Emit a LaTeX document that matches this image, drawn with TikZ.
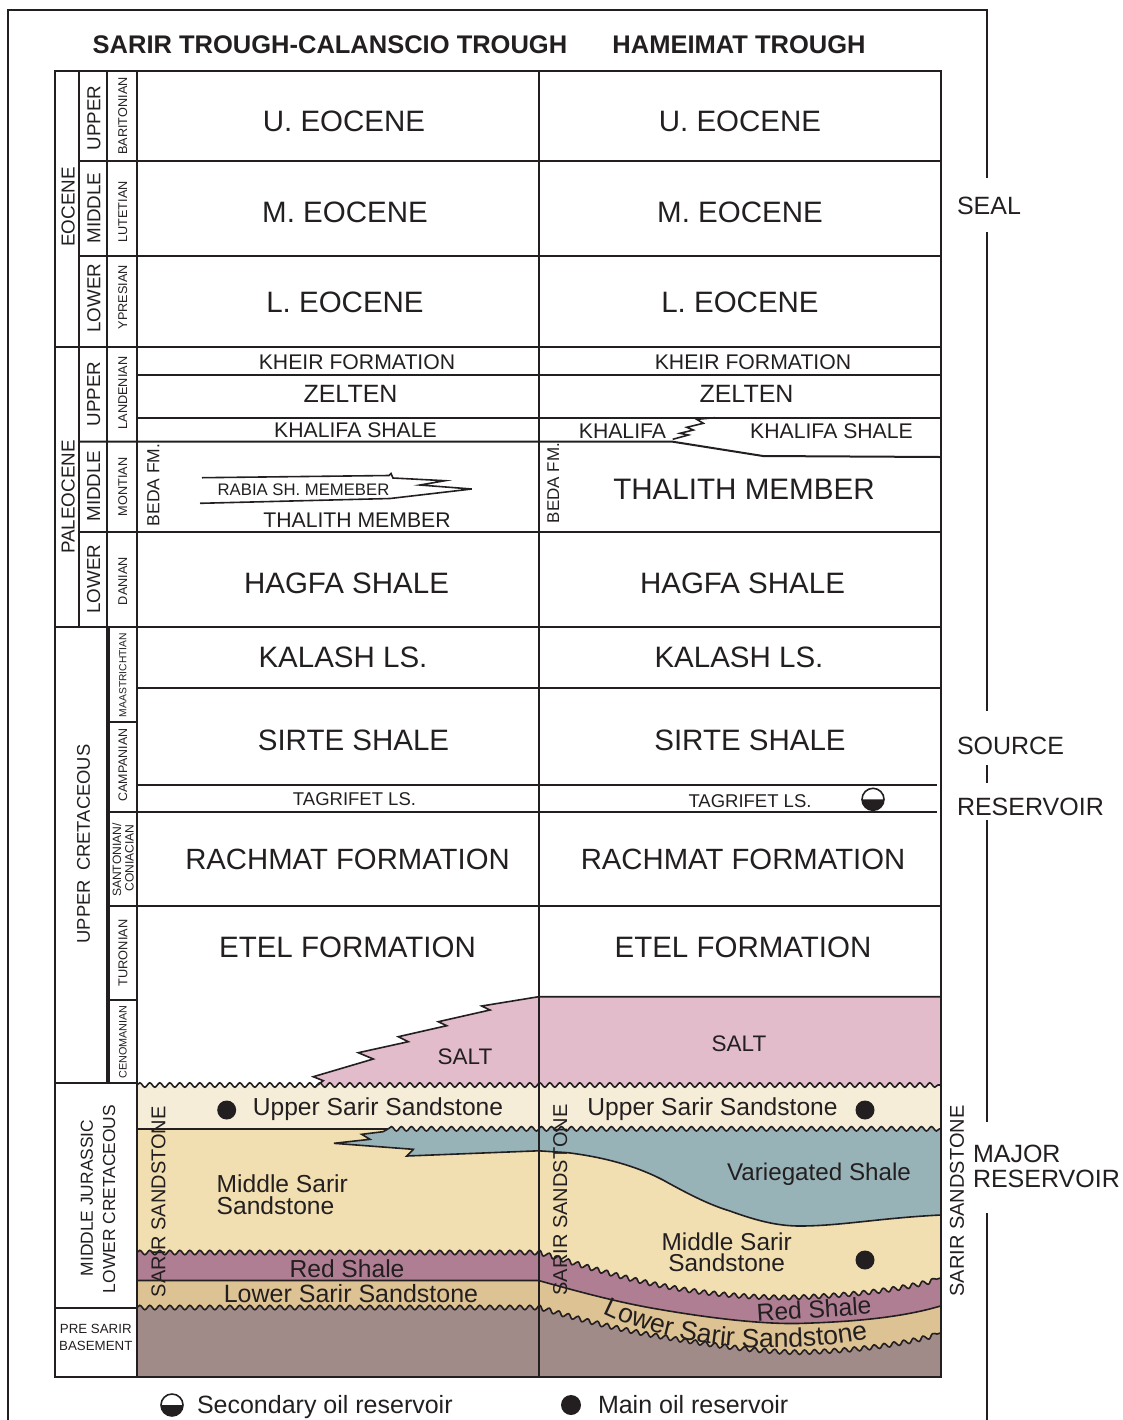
\documentclass[tikz,border=0pt]{standalone}
\usepackage{fontspec}
\setmainfont{Liberation Sans}
\usetikzlibrary{decorations.pathmorphing,decorations.text}
\definecolor{ink}{HTML}{231F20}
\definecolor{saltc}{HTML}{E2BCCB}
\definecolor{usand}{HTML}{F6EDD8}
\definecolor{msand}{HTML}{F1DFB1}
\definecolor{varsh}{HTML}{98B3B8}
\definecolor{redsh}{HTML}{AF7E92}
\definecolor{lsand}{HTML}{DDC293}
\definecolor{basem}{HTML}{A08B89}
\begin{document}
\begin{tikzpicture}[x=0.5pt,y=-0.5pt,
  fs/.style={font=\fontsize{#1}{#1}\selectfont, text height={0.716*#1pt}, text depth=0pt, inner sep=0pt, outer sep=0pt, text=ink},
  fsb/.style={fs=#1, font=\fontsize{#1}{#1}\selectfont\bfseries},
  wave/.style={decoration={snake,segment length=5pt,amplitude=1.1pt}},
  gridl/.style={draw=ink, line width=1pt},
  bnd/.style={draw=ink, line width=0.8pt},
  frame/.style={draw=ink, line width=0.9pt},
]
\useasboundingbox (0,0) rectangle (1123,1420);

% ---------- coloured fills ----------
\fill[saltc] (940.5,996.7) -- (538.7,996.7) -- (481.7,1006) -- (490,1010) -- (438.3,1021.7) -- (446.7,1025.7) -- (398.3,1036.7) -- (408.3,1041.7) -- (358.3,1052.7) -- (373.3,1059) -- (313.3,1076.7) -- (323.3,1080.7) -- (316,1089) -- (940.5,1092) -- cycle;
\fill[usand] decorate[wave]{(136.7,1085) -- (940.5,1085)} -- (940.5,1376.7) -- (136.7,1376.7) -- cycle;
\fill[msand] decorate[wave]{(388.3,1128.8) -- (940.5,1128.8)} -- (940.5,1376.7) -- (136.7,1376.7) -- (136.7,1128.8) -- cycle;
\fill[varsh] decorate[wave]{(388.3,1128.8) -- (940.5,1128.8)} -- (940.5,1215)
  .. controls (880,1218) and (840,1226) .. (800,1226)
  .. controls (780,1226) and (760,1222) .. (730,1211)
  .. controls (710,1205) and (690,1195) .. (663,1180)
  .. controls (640,1168) and (610,1158) .. (568,1152.7)
  -- (538.5,1150.8) -- (406.7,1156) -- (413.3,1149.3) -- (334,1143.3) -- (370,1139.3) -- (361.7,1134.3) -- (383,1131.7) -- cycle;
\fill[redsh] decorate[wave]{(136.7,1252.5) -- (538.5,1252.5) .. controls (580,1265) and (620,1278) .. (663,1286) .. controls (710,1295) and (760,1298) .. (797,1297) .. controls (850,1295) and (900,1290) .. (940.5,1278)} -- (940.5,1376.7) -- (136.7,1376.7) -- cycle;
\fill[lsand] (136.7,1280.5) -- (538.5,1280.5) .. controls (580,1292) and (620,1303) .. (663,1310) .. controls (710,1318) and (760,1324) .. (797,1323.5) .. controls (850,1322) and (900,1318) .. (940.5,1306) -- (940.5,1376.7) -- (136.7,1376.7) -- cycle;
\fill[basem] decorate[wave]{(136.7,1307.5) -- (538.5,1307.5) .. controls (580,1320) and (620,1330) .. (663,1337) .. controls (710,1345) and (760,1352) .. (797,1352) .. controls (850,1351) and (900,1345) .. (940.5,1333)} -- (940.5,1376.7) -- (136.7,1376.7) -- cycle;

% ---------- layer boundaries ----------
\draw[bnd] (940.5,996.7) -- (538.7,996.7) -- (481.7,1006) -- (490,1010) -- (438.3,1021.7) -- (446.7,1025.7) -- (398.3,1036.7) -- (408.3,1041.7) -- (358.3,1052.7) -- (373.3,1059) -- (313.3,1076.7) -- (323.3,1080.7) -- (316,1086);
\draw[bnd] decorate[wave]{(136.7,1085) -- (940.5,1085)};
\draw[bnd] (136.7,1128.8) -- (388.3,1128.8);
\draw[bnd] decorate[wave]{(388.3,1128.8) -- (940.5,1128.8)};
\draw[bnd] (388.3,1128.8) -- (383,1131.7) -- (361.7,1134.3) -- (370,1139.3) -- (334,1143.3) -- (413.3,1149.3) -- (406.7,1156) -- (538.5,1150.8) -- (568,1152.7)
  .. controls (610,1158) and (640,1168) .. (663,1180)
  .. controls (690,1195) and (710,1205) .. (730,1211)
  .. controls (760,1222) and (780,1226) .. (800,1226)
  .. controls (840,1226) and (880,1218) .. (940.5,1215);
\draw[bnd] decorate[wave]{(136.7,1252.5) -- (538.5,1252.5) .. controls (580,1265) and (620,1278) .. (663,1286) .. controls (710,1295) and (760,1298) .. (797,1297) .. controls (850,1295) and (900,1290) .. (940.5,1278)};
\draw[bnd] (136.7,1280.5) -- (538.5,1280.5) .. controls (580,1292) and (620,1303) .. (663,1310) .. controls (710,1318) and (760,1324) .. (797,1323.5) .. controls (850,1322) and (900,1318) .. (940.5,1306);
\draw[bnd] decorate[wave]{(136.7,1307.5) -- (538.5,1307.5) .. controls (580,1320) and (620,1330) .. (663,1337) .. controls (710,1345) and (760,1352) .. (797,1352) .. controls (850,1351) and (900,1345) .. (940.5,1333)};

% Rabia tongue and Khalifa interfingering
\draw[bnd] (202,477.7) -- (389,475.5) -- (391,473.5) -- (393,478) -- (445,480.7) -- (420,485) -- (471.7,489) -- (390,498.5) -- (200,503.3);
\draw[gridl] (79.3,441.7) -- (672.7,441.7) -- (763,456) -- (940.5,457);
\draw[bnd] (672.7,439.3) -- (688.3,435) -- (680,433.3) -- (693.3,430) -- (686.7,427.3) -- (703.3,423.3) -- (696.7,419.3) -- (715,417.7);

% ---------- table grid ----------
\draw[gridl] (55,71) rectangle (940.5,1376.7);
\draw[gridl] (79.3,71) -- (79.3,627.3);
\draw[gridl] (106.7,71) -- (106.7,1083.3);
\draw[gridl] (108.9,627.3) -- (108.9,1083.3);
\draw[gridl] (136.7,71) -- (136.7,1376.7);
\draw[gridl] (538.5,71) -- (538.5,1376.7);
\draw[gridl] (79.3,161) -- (940.5,161);
\draw[gridl] (79.3,256) -- (940.5,256);
\draw[gridl] (55,346.7) -- (940.5,346.7);
\draw[gridl] (136.7,375) -- (940.5,375);
\draw[gridl] (136.7,417.7) -- (940.5,417.7);
\draw[gridl] (79.3,532.3) -- (940.5,532.3);
\draw[gridl] (55,627.3) -- (940.5,627.3);
\draw[gridl] (136.7,687.7) -- (940.5,687.7);
\draw[gridl] (108.9,721.7) -- (136.7,721.7);
\draw[gridl] (136.7,785) -- (937,785);
\draw[gridl] (108.9,812.3) -- (937,812.3);
\draw[gridl] (108.9,905.7) -- (940.5,905.7);
\draw[gridl] (108.9,1000) -- (136.7,1000);
\draw[gridl] (55,1083.3) -- (136.7,1083.3);
\draw[gridl] (55,1308.3) -- (136.7,1308.3);

% ---------- outer frame ----------
\draw[frame] (8,1420) -- (8,10) -- (987,10) -- (987,178);
\draw[frame] (987,232) -- (987,711);
\draw[frame] (987,765) -- (987,783);
\draw[frame] (987,820) -- (987,1121.7);
\draw[frame] (987,1213.3) -- (987,1420);

% ---------- titles ----------
\node[fsb=12.75] (ttl1) at (330,44) {SARIR TROUGH-CALANSCIO TROUGH};
\node[fsb=12.75] (ttl2) at (739,44) {HAMEIMAT TROUGH};

% ---------- age columns ----------
\node[fs=9.4,rotate=90] (eoc) at (68,207) {EOCENE};
\node[fs=9.4,rotate=90] (eocu) at (93.6,118) {UPPER};
\node[fs=9.4,rotate=90] (eocm) at (93.6,208) {MIDDLE};
\node[fs=9.4,rotate=90] (eocl) at (93.6,298) {LOWER};
\node[fs=9.4,rotate=90] (pal) at (68,497) {PALEOCENE};
\node[fs=9.4,rotate=90] (palu) at (93.3,394) {UPPER};
\node[fs=9.4,rotate=90] (palm) at (93.3,486) {MIDDLE};
\node[fs=9.4,rotate=90] (pall) at (93.3,579) {LOWER};
\node[fs=9.2,rotate=90] (ucr) at (83.3,844) {UPPER\hspace{0.5em}CRETACEOUS};
\node[fs=8.7,rotate=90] (mjur) at (86.7,1198) {MIDDLE JURASSIC};
\node[fs=8.7,rotate=90] (lcre) at (109,1199) {LOWER CRETACEOUS};
\node[fs=6.65] (pre1) at (95.8,1328.3) {PRE SARIR};
\node[fs=6.65] (pre2) at (95.8,1345.7) {BASEMENT};

% stages
\node[fs=6.35,rotate=90] (st1) at (122.7,116) {BARITONIAN};
\node[fs=6.35,rotate=90] (st2) at (122.7,212) {LUTETIAN};
\node[fs=6.35,rotate=90] (st3) at (122.7,297) {YPRESIAN};
\node[fs=6.35,rotate=90] (st4) at (122.7,393) {LANDENIAN};
\node[fs=6.35,rotate=90] (st5) at (122.7,487) {MONTIAN};
\node[fs=6.35,rotate=90] (st6) at (122.7,581) {DANIAN};
\node[fs=5.15,rotate=90] (st7) at (122.7,675) {MAASTRICHTIAN};
\node[fs=6.2,rotate=90] (st8) at (122.7,765) {CAMPANIAN};
\node[fs=6.05,rotate=90] (st9a) at (116.9,860) {SANTONIAN/};
\node[fs=6.05,rotate=90] (st9b) at (129.3,858) {CONIACIAN};
\node[fs=6.4,rotate=90] (st10) at (122.7,953) {TURONIAN};
\node[fs=5.4,rotate=90] (st11) at (122.7,1042) {CENOMANIAN};

% ---------- left column formations ----------
\node[fs=14.75] (l1) at (344,121) {U. EOCENE};
\node[fs=14.75] (l2) at (345,212) {M. EOCENE};
\node[fs=14.75] (l3) at (345,302) {L. EOCENE};
\node[fs=10.6] (l4) at (357,362) {KHEIR FORMATION};
\node[fs=12.5] (l5) at (350.5,394) {ZELTEN};
\node[fs=10.6] (l6) at (355.5,430) {KHALIFA SHALE};
\node[fs=8.75,rotate=90] (l7) at (153,485) {BEDA FM.};
\node[fs=8.35] (l8) at (303.5,490) {RABIA SH. MEMEBER};
\node[fs=10.6] (l9) at (357,520) {THALITH MEMBER};
\node[fs=14.75] (l10) at (346.5,583) {HAGFA SHALE};
\node[fs=14.75] (l11) at (343,657) {KALASH LS.};
\node[fs=14.75] (l12) at (353.5,740) {SIRTE SHALE};
\node[fs=9.25] (l13) at (354.5,799) {TAGRIFET LS.};
\node[fs=14.65] (l14) at (347.5,859) {RACHMAT FORMATION};
\node[fs=14.75] (l15) at (347.5,947) {ETEL FORMATION};
\node[fs=11.25] (l16) at (465,1056.7) {SALT};
\node[fs=12.3] (l17) at (378,1107) {Upper Sarir Sandstone};
\node[fs=12.3,anchor=west] (l18) at (216.7,1183.3) {Middle Sarir};
\node[fs=12.3,anchor=west] (l19) at (216.7,1206) {Sandstone};
\node[fs=12.3] (l20) at (347,1268.3) {Red Shale};
\node[fs=12.5] (l21) at (351,1294) {Lower Sarir Sandstone};
\node[fs=10,rotate=90] (l22) at (158.3,1201.7) {SARIR SANDSTONE};

% ---------- right column formations ----------
\node[fs=14.75] (r1) at (740,121) {U. EOCENE};
\node[fs=14.75] (r2) at (740,212) {M. EOCENE};
\node[fs=14.75] (r3) at (740,302) {L. EOCENE};
\node[fs=10.6] (r4) at (753,362) {KHEIR FORMATION};
\node[fs=12.5] (r5) at (746.5,394) {ZELTEN};
\node[fs=10.6] (r6a) at (622.5,431) {KHALIFA};
\node[fs=10.6] (r6b) at (831.5,431) {KHALIFA SHALE};
\node[fs=8.5,rotate=90] (r7) at (553,483) {BEDA FM.};
\node[fs=14.8] (r8) at (744,489) {THALITH MEMBER};
\node[fs=14.75] (r9) at (742.5,583) {HAGFA SHALE};
\node[fs=14.75] (r10) at (739,657) {KALASH LS.};
\node[fs=14.75] (r11) at (750,740) {SIRTE SHALE};
\node[fs=9.25] (r12) at (750,800.5) {TAGRIFET LS.};
\node[fs=14.65] (r13) at (743,859) {RACHMAT FORMATION};
\node[fs=14.75] (r14) at (743,947) {ETEL FORMATION};
\node[fs=11.25] (r15) at (739,1043) {SALT};
\node[fs=12.3] (r16) at (712.5,1107) {Upper Sarir Sandstone};
\node[fs=12.1] (r17) at (819,1171.7) {Variegated Shale};
\node[fs=12.2] (r18) at (726.7,1241.7) {Middle Sarir};
\node[fs=12.2] (r19) at (726.7,1262.7) {Sandstone};
\node[fs=12.3,rotate=4] (r20) at (814,1309) {Red Shale};
\node[fs=10,rotate=90] (r21) at (560,1200) {SARIR SANDSTONE};
\node[fs=10,rotate=90] (r22) at (956.7,1201) {SARIR SANDSTONE};
\path[decorate,decoration={text along path, text align=left,
  text={|\fontsize{13.3}{13.3}\selectfont\color{ink}|Lower Sarir Sandstone}}]
  (603,1313) .. controls (640,1332) and (700,1347) .. (760,1347.5) .. controls (810,1348) and (850,1344) .. (886,1335);

% oil symbols
\fill[ink] (226.7,1110) circle[radius=9.5];
\fill[ink] (865,1110) circle[radius=9.5];
\fill[ink] (865,1260) circle[radius=9.5];
\fill[ink] (884,799.3) arc[start angle=0,end angle=180,radius=11] -- cycle;
\draw[ink,line width=0.8pt] (873,799.3) circle[radius=11];

% ---------- side labels ----------
\node[fs=12.5,anchor=west] (sd1) at (957,206) {SEAL};
\node[fs=12.5,anchor=west] (sd2) at (957,746) {SOURCE};
\node[fs=12.5,anchor=west] (sd3) at (957,806.7) {RESERVOIR};
\node[fs=12.5,anchor=west] (sd4) at (973,1154) {MAJOR};
\node[fs=12.5,anchor=west] (sd5) at (973,1178.3) {RESERVOIR};

% ---------- legend ----------
\fill[ink] (183,1405) arc[start angle=0,end angle=180,radius=11] -- cycle;
\draw[ink,line width=0.8pt] (172,1405) circle[radius=11];
\node[fs=12.5,anchor=west] (lg1) at (197,1405) {Secondary oil reservoir};
\fill[ink] (571,1405) circle[radius=10];
\node[fs=12.5,anchor=west] (lg2) at (598,1405) {Main oil reservoir};
\end{tikzpicture}
\end{document}
